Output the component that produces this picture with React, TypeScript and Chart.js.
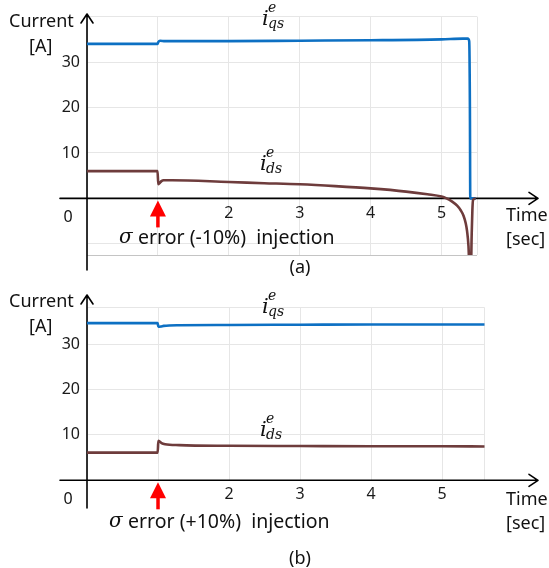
import React, { useEffect, useRef } from "react";
import { Chart, registerables } from "chart.js";

Chart.register(...registerables);

// ---------- data (a) ----------
const timeA_qs = [0, 0.995, 1.005, 1.03, 1.1, 2, 3, 4, 5, 5.3, 5.37, 5.39, 5.4, 5.405, 5.48];
const iqsA = [34.0, 34.0, 34.4, 34.7, 34.6, 34.6, 34.7, 34.8, 35.0, 35.15, 35.15, 34.6, 20, 0, 0];
const timeA_ds = [0, 0.995, 1.005, 1.02, 1.05, 1.08, 1.2, 2, 2.5, 3, 3.5, 4, 4.5, 4.8, 5.0, 5.07, 5.15, 5.22, 5.27, 5.31, 5.34, 5.36, 5.38, 5.4, 5.415, 5.425, 5.435, 5.445, 5.48];
const idsA = [6.0, 6.0, 3.1, 3.3, 3.8, 4.0, 4.0, 3.6, 3.35, 3.1, 2.7, 2.2, 1.5, 0.9, 0.4, 0, -0.7, -1.6, -2.6, -3.8, -5.4, -7.2, -10.5, -18, -16, -8, -2.5, -0.3, 0];

// ---------- data (b) ----------
const timeB_qs = [0, 0.995, 1.005, 1.04, 1.08, 1.3, 2, 3, 4, 5, 5.6];
const iqsB = [34.6, 34.6, 33.8, 33.85, 34.0, 34.15, 34.2, 34.25, 34.3, 34.3, 34.3];
const timeB_ds = [0, 0.995, 1.005, 1.02, 1.05, 1.1, 1.3, 2, 3, 4, 5, 5.6];
const idsB = [6.1, 6.1, 8.7, 8.6, 8.2, 7.95, 7.75, 7.6, 7.55, 7.5, 7.5, 7.45];

// ---------- axes ----------
const xGridA = [0, 1, 2, 3, 4, 5, 5.5];
const yGridA = [-12.45, -10, 0, 10, 20, 30, 40];
const xGridB = [0, 1, 2, 3, 4, 5, 5.6];
const yGridB = [0, 10, 20, 30, 38];
const xTickLabels = [2, 3, 4, 5];
const yTickLabels = [10, 20, 30];

const captionA = "error (-10%)  injection";
const captionB = "error (+10%)  injection";

const BLUE = "#0d70c3";
const BROWN = "#6e3c3c";
const SANS = '"Noto Sans", sans-serif';
const SERIF = '"DejaVu Serif", serif';

type Panel = {
  width: number;
  height: number;
  xMax: number;
  yMin: number;
  yMax: number;
  xGrid: number[];
  yGrid: number[];
  qsT: number[];
  qs: number[];
  dsT: number[];
  ds: number[];
  pad: { top: number; right: number; bottom: number };
  yAxisTop: number;
  yAxisBottom: number;
  zeroLabelY: number;
  timeY: number;
  secY: number;
  captionSigmaX: number;
  captionX: number;
  captionY: number;
  caption: string;
  tag: string;
  tagY: number;
  qsLabelY: number;
  dsLabelY: number;
};

function pts(t: number[], v: number[]) {
  return t.map((x, i) => ({ x, y: v[i] }));
}

function drawLabel(ctx: CanvasRenderingContext2D, x: number, baseY: number, sub: string) {
  ctx.fillStyle = "#111";
  ctx.textBaseline = "alphabetic";
  ctx.textAlign = "left";
  ctx.font = `italic 21px ${SERIF}`;
  ctx.fillText("i", x, baseY);
  ctx.font = `italic 14px ${SERIF}`;
  ctx.fillText("e", x + 6, baseY - 13);
  ctx.fillText(sub, x + 6, baseY + 3);
}

function makeDecor(p: Panel) {
  return {
    id: "decor",
    beforeDatasetsDraw(chart: any) {
      const ctx = chart.ctx as CanvasRenderingContext2D;
      const x0 = chart.scales.x.getPixelForValue(0);
      const y0 = chart.scales.y.getPixelForValue(0);
      ctx.save();
      ctx.strokeStyle = "#000";
      ctx.lineWidth = 1.6;
      ctx.lineCap = "round";
      ctx.lineJoin = "round";
      // x axis
      ctx.beginPath();
      ctx.moveTo(60, y0);
      ctx.lineTo(538, y0);
      ctx.moveTo(529, y0 - 6);
      ctx.lineTo(538, y0);
      ctx.lineTo(529, y0 + 6);
      // y axis
      ctx.moveTo(x0, p.yAxisBottom);
      ctx.lineTo(x0, p.yAxisTop);
      ctx.moveTo(x0 - 6, p.yAxisTop + 9);
      ctx.lineTo(x0, p.yAxisTop);
      ctx.lineTo(x0 + 6, p.yAxisTop + 9);
      ctx.stroke();
      ctx.restore();
    },
    afterDatasetsDraw(chart: any) {
      const ctx = chart.ctx as CanvasRenderingContext2D;
      const x1 = chart.scales.x.getPixelForValue(1);
      const y0 = chart.scales.y.getPixelForValue(0);
      ctx.save();
      // red arrow at injection time
      ctx.fillStyle = "#ff0000";
      ctx.beginPath();
      ctx.moveTo(x1, y0 + 2);
      ctx.lineTo(x1 + 8, y0 + 18);
      ctx.lineTo(x1 - 8, y0 + 18);
      ctx.closePath();
      ctx.fill();
      ctx.fillRect(x1 - 1.75, y0 + 17, 3.5, 12);

      ctx.fillStyle = "#111";
      ctx.font = `18px ${SANS}`;
      ctx.textBaseline = "middle";
      ctx.textAlign = "left";
      ctx.fillText("Current", 9, 22);
      ctx.fillText("[A]", 29, 47);
      ctx.fillText("Time", 506, p.timeY);
      ctx.fillText("[sec]", 506, p.secY);
      ctx.textAlign = "center";
      ctx.fillText(p.tag, 300, p.tagY);
      ctx.textAlign = "left";
      ctx.font = `19.5px ${SANS}`;
      ctx.fillText(p.caption, p.captionX, p.captionY);
      ctx.font = `16px ${SANS}`;
      ctx.textAlign = "center";
      ctx.fillText("0", 68, p.zeroLabelY);
      ctx.textAlign = "left";
      ctx.font = `italic 20px ${SERIF}`;
      ctx.fillText("σ", p.captionSigmaX, p.captionY);

      drawLabel(ctx, 262, p.qsLabelY, "qs");
      drawLabel(ctx, 260, p.dsLabelY, "ds");
      ctx.restore();
    },
  };
}

function ChartPanel({ p }: { p: Panel }) {
  const ref = useRef<HTMLCanvasElement>(null);
  useEffect(() => {
    if (!ref.current) return;
    const gridColor = (c: any) =>
      c.tick && c.tick.value === p.yMin && p.yMin < 0 ? "#c4c4c4" : "#e6e6e6";
    const chart = new Chart(ref.current, {
      type: "line",
      data: {
        datasets: [
          {
            data: pts(p.dsT, p.ds),
            borderColor: BROWN,
            backgroundColor: BROWN,
            borderWidth: 2.6,
            pointRadius: 0,
            cubicInterpolationMode: "monotone",
          },
          {
            data: pts(p.qsT, p.qs),
            borderColor: BLUE,
            backgroundColor: BLUE,
            borderWidth: 2.6,
            pointRadius: 0,
            cubicInterpolationMode: "monotone",
          },
        ],
      },
      options: {
        responsive: false,
        maintainAspectRatio: false,
        animation: false,
        devicePixelRatio: 1,
        layout: { padding: { top: p.pad.top, right: p.pad.right, bottom: p.pad.bottom, left: 0 } },
        plugins: { legend: { display: false }, tooltip: { enabled: false } },
        scales: {
          x: {
            type: "linear",
            min: 0,
            max: p.xMax,
            position: { y: 0 } as any,
            border: { display: false },
            grid: { color: "#e6e6e6", lineWidth: 1, drawTicks: false },
            ticks: {
              padding: 5,
              autoSkip: false,
              maxRotation: 0,
              color: "#1a1a1a",
              font: { family: SANS, size: 16 },
              callback: (v: any) => (xTickLabels.includes(Number(v)) ? String(v) : ""),
            },
            afterBuildTicks: (s: any) => {
              s.ticks = p.xGrid.map((v) => ({ value: v }));
            },
          },
          y: {
            type: "linear",
            min: p.yMin,
            max: p.yMax,
            border: { display: false },
            grid: { color: gridColor, lineWidth: 1, drawTicks: false },
            ticks: {
              padding: 7,
              color: "#1a1a1a",
              font: { family: SANS, size: 16 },
              callback: (v: any) => (yTickLabels.includes(Number(v)) ? String(v) : ""),
            },
            afterBuildTicks: (s: any) => {
              s.ticks = p.yGrid.map((v) => ({ value: v }));
            },
            afterFit: (s: any) => {
              s.width = 87;
            },
          },
        },
      } as any,
      plugins: [makeDecor(p)],
    });
    return () => chart.destroy();
  }, [p]);
  return (
    <canvas
      ref={ref}
      width={p.width}
      height={p.height}
      style={{ display: "block", width: p.width, height: p.height }}
    />
  );
}

const panelA: Panel = {
  width: 549,
  height: 280,
  xMax: 5.5,
  yMin: -12.45,
  yMax: 40,
  xGrid: xGridA,
  yGrid: yGridA,
  qsT: timeA_qs,
  qs: iqsA,
  dsT: timeA_ds,
  ds: idsA,
  pad: { top: 13.7, right: 72, bottom: 25 },
  yAxisTop: 14,
  yAxisBottom: 270,
  zeroLabelY: 217,
  timeY: 216,
  secY: 240,
  captionSigmaX: 119,
  captionX: 138,
  captionY: 238,
  caption: captionA,
  tag: "(a)",
  tagY: 268,
  qsLabelY: 25,
  dsLabelY: 170,
};

const panelB: Panel = {
  width: 549,
  height: 288,
  xMax: 5.6,
  yMin: 0,
  yMax: 38,
  xGrid: xGridB,
  yGrid: yGridB,
  qsT: timeB_qs,
  qs: iqsB,
  dsT: timeB_ds,
  ds: idsB,
  pad: { top: 27.7, right: 64.3, bottom: 87.7 },
  yAxisTop: 15,
  yAxisBottom: 228,
  zeroLabelY: 219,
  timeY: 220,
  secY: 244,
  captionSigmaX: 109,
  captionX: 128,
  captionY: 242,
  caption: captionB,
  tag: "(b)",
  tagY: 279,
  qsLabelY: 33,
  dsLabelY: 156,
};

export default function App() {
  return (
    <div style={{ position: "absolute", left: 0, top: 0, width: 549, height: 568, background: "#fff" }}>
      <ChartPanel p={panelA} />
      <ChartPanel p={panelB} />
    </div>
  );
}
